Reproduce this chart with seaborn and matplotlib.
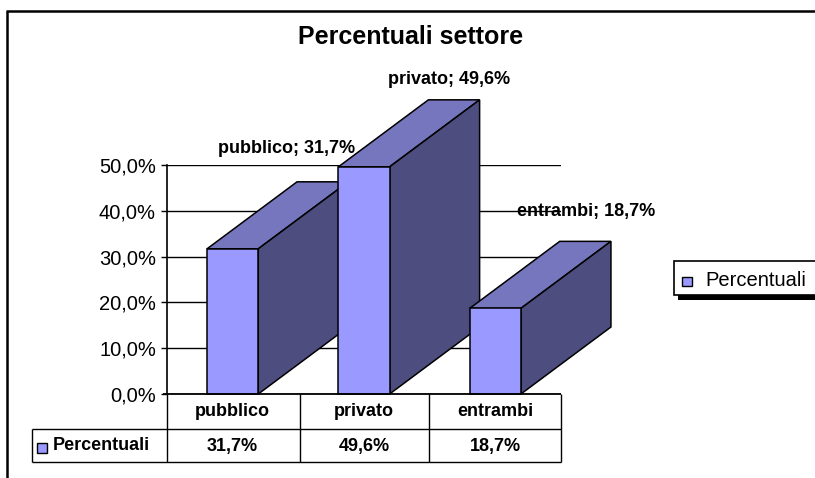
import matplotlib
matplotlib.use("Agg")
import matplotlib.pyplot as plt
import matplotlib.transforms as mtransforms
import seaborn as sns
import pandas as pd
from matplotlib.patches import Polygon, Rectangle
from matplotlib.lines import Line2D

# Data
categories = ["pubblico", "privato", "entrambi"]
values = [31.7, 49.6, 18.7]
series_name = "Percentuali"
chart_title = "Percentuali settore"
yticks = [0, 10, 20, 30, 40, 50]


def fmt(v):
    return f"{v:.1f}".replace(".", ",") + "%"


sns.set_theme(style="white")
plt.rcParams["font.family"] = ["Liberation Sans", "DejaVu Sans"]

FRONT = "#9999FF"
TOP = "#7676BE"
SIDE = "#4D4D80"

W, H = 815, 478
fig = plt.figure(figsize=(W / 100, H / 100), dpi=100)
fig.patch.set_facecolor("white")


def fx(x):
    return x / W


def fy(y):
    return 1 - y / H


def fline(x1, y1, x2, y2, lw=1.0):
    fig.add_artist(Line2D([fx(x1), fx(x2)], [fy(y1), fy(y2)],
                          transform=fig.transFigure, color="black", lw=lw,
                          solid_capstyle="butt"))


# Plot area in pixels
ax_l, ax_r, ax_t, ax_b = 167, 561, 165, 394
ax = fig.add_axes([fx(ax_l), fy(ax_b), (ax_r - ax_l) / W, (ax_b - ax_t) / H])
ax.set_facecolor("none")

df = pd.DataFrame({"settore": categories, "valore": values})
sns.barplot(data=df, x="settore", y="valore", color=FRONT, saturation=1,
            width=0.39, edgecolor="black", linewidth=1.1, ax=ax)

ax.set_xlim(-0.5, len(categories) - 0.5)
ax.set_ylim(0, 50)

# Oblique depth of the 3D columns (90 px right, 67 px up)
depth_x = 90 / ((ax_r - ax_l) / len(categories))
depth_y = 67 / ((ax_b - ax_t) / 50)

bars = list(ax.patches)
for i, p in enumerate(bars):
    x0, w, h = p.get_x(), p.get_width(), p.get_height()
    p.set_zorder(3 + 2 * i)
    p.set_clip_on(False)
    top = Polygon([(x0, h), (x0 + w, h), (x0 + w + depth_x, h + depth_y),
                   (x0 + depth_x, h + depth_y)], closed=True,
                  facecolor=TOP, edgecolor="black", lw=1.1,
                  zorder=2 + 2 * i, clip_on=False, joinstyle="miter")
    side = Polygon([(x0 + w, 0), (x0 + w + depth_x, depth_y),
                    (x0 + w + depth_x, h + depth_y), (x0 + w, h)], closed=True,
                   facecolor=SIDE, edgecolor="black", lw=1.1,
                   zorder=2 + 2 * i, clip_on=False, joinstyle="miter")
    ax.add_patch(top)
    ax.add_patch(side)

# Axes styling
ax.set_axisbelow(True)
ax.yaxis.grid(True, color="black", lw=1.0)
ax.xaxis.grid(False)
ax.set_xlabel("")
ax.set_ylabel("")
ax.set_xticks([])
ax.set_yticks(yticks)
ax.set_yticklabels([fmt(v) for v in yticks])
ax.tick_params(axis="y", left=True, length=4, width=1.0, color="black",
               pad=4, labelsize=14.5, labelcolor="black")
for s in ["top", "right", "bottom"]:
    ax.spines[s].set_visible(False)
ax.spines["left"].set_color("black")
ax.spines["left"].set_linewidth(1.2)

# Data labels
label_offsets = [(54, 100), (85, 87), (91, 97)]
for i, (cat, v) in enumerate(zip(categories, values)):
    ox, oy = label_offsets[i]
    ax.annotate(f"{cat}; {fmt(v)}", xy=(i, v), xytext=(ox, oy),
                textcoords="offset pixels", ha="center", va="center",
                fontsize=13, fontweight="bold", color="black",
                annotation_clip=False, zorder=0.3)

# Data table under the plot
fline(163, 394, 561, 394, lw=1.3)
fline(167, 394, 167, 462)
for xb in [300, 429, 561]:
    fline(xb, 394, xb, 462)
fline(32, 429, 561, 429)
fline(32, 462, 561, 462)
fline(32, 429, 32, 462)

col_tr = mtransforms.blended_transform_factory(ax.transData, fig.transFigure)
for i, (cat, v) in enumerate(zip(categories, values)):
    fig.text(i, fy(411), cat, transform=col_tr, ha="center", va="center",
             fontsize=13, fontweight="bold", color="black")
    fig.text(i, fy(446), fmt(v), transform=col_tr, ha="center", va="center",
             fontsize=13, fontweight="bold", color="black")

fig.add_artist(Rectangle((fx(37), fy(453)), 10 / W, 10 / H,
                         transform=fig.transFigure, facecolor=FRONT,
                         edgecolor="black", lw=1.0))
fig.text(fx(53), fy(446), series_name, ha="left", va="center",
         fontsize=13, fontweight="bold", color="black")

# Legend box with shadow
fig.add_artist(Rectangle((fx(678), fy(300)), (830 - 678) / W, 6 / H,
                         transform=fig.transFigure, facecolor="black",
                         edgecolor="none"))
fig.add_artist(Rectangle((fx(674), fy(295)), (830 - 674) / W, 34 / H,
                         transform=fig.transFigure, facecolor="white",
                         edgecolor="black", lw=1.2))
fig.add_artist(Rectangle((fx(682), fy(286)), 10 / W, 9 / H,
                         transform=fig.transFigure, facecolor=FRONT,
                         edgecolor="black", lw=1.0))
fig.text(fx(705), fy(280), series_name, ha="left", va="center",
         fontsize=14.5, color="black")

# Chart title and outer frame
fig.text(fx(411), fy(37), chart_title, ha="center", va="center",
         fontsize=18, fontweight="bold", color="black")
fline(7, 11, 7, 478, lw=1.8)
fline(6, 11, 815, 11, lw=1.8)

fig.savefig("out.png", dpi=100, facecolor="white")
